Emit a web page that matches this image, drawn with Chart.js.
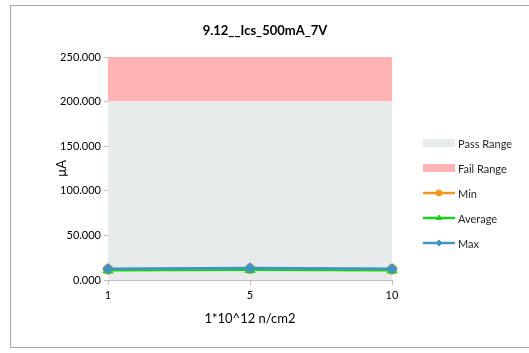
<!DOCTYPE html>
<html>
<head>
<meta charset="utf-8">
<script src="https://cdn.jsdelivr.net/npm/chart.js@4/dist/chart.umd.min.js"></script>
<style>
    html, body { margin: 0; padding: 0; background: #fff; overflow: hidden; }
    #wrap { position: relative; width: 529px; height: 353px; overflow: hidden; }
    #frame { position: absolute; left: 10px; top: 5px; width: 540px; height: 341px; border: 1px solid #a6a6a6; }
    canvas { position: absolute; left: 0; top: 0; }
</style>
</head>
<body>
<div id="wrap">
    <div id="frame"></div>
    <canvas id="chart" width="529" height="353"></canvas>
</div>
<script>
    var chartTitle = '9.12__Ics_500mA_7V';
    var fluence = ['1', '5', '10'];
    var passRange = [200, 200, 200];
    var failRange = [250, 250, 250];
    var minValues = [12.0, 12.5, 12.0];
    var avgValues = [11.0, 11.5, 11.0];
    var maxValues = [12.5, 13.5, 12.5];
    var yTicks = [0, 50, 100, 150, 200, 250];

    var fontFamily = 'Lato, "Open Sans", sans-serif';

    // Title and legend drawn by hand: title centred on the whole frame,
    // legend entries get a line with a marker like the original.
    var decorPlugin = {
        id: 'decor',
        afterDraw: function (chart) {
            var ctx = chart.ctx;
            ctx.save();
            ctx.fillStyle = '#000';
            ctx.font = 'bold 13px ' + fontFamily;
            ctx.textAlign = 'center';
            ctx.textBaseline = 'middle';
            ctx.fillText(chartTitle, 265, 31);

            var x = 423, y = 143, step = 25;
            ctx.font = '11px ' + fontFamily;
            ctx.textAlign = 'left';
            chart.data.datasets.forEach(function (ds, i) {
                var cy = y + i * step;
                if (ds.isRange) {
                    ctx.fillStyle = ds.backgroundColor;
                    ctx.fillRect(x, cy - 4, 32, 8);
                } else {
                    ctx.strokeStyle = ds.borderColor;
                    ctx.fillStyle = ds.borderColor;
                    ctx.lineWidth = 2.5;
                    ctx.beginPath();
                    ctx.moveTo(x, cy);
                    ctx.lineTo(x + 32, cy);
                    ctx.stroke();
                    ctx.lineWidth = 1;
                    Chart.helpers.drawPoint(ctx, {
                        pointStyle: ds.pointStyle,
                        radius: 3,
                        borderWidth: 1
                    }, x + 16, cy);
                }
                ctx.fillStyle = '#262626';
                ctx.fillText(ds.label, x + 35, cy + 1);
            });
            ctx.restore();
        }
    };

    function lineSeries(label, data, color, style, order) {
        return {
            label: label,
            data: data,
            borderColor: color,
            backgroundColor: color,
            pointBackgroundColor: color,
            pointBorderColor: color,
            pointStyle: style,
            pointRadius: 4,
            borderWidth: 2.5,
            fill: false,
            tension: 0,
            order: order
        };
    }

    new Chart(document.getElementById('chart'), {
        type: 'line',
        data: {
            labels: fluence,
            datasets: [
                {
                    label: 'Pass Range',
                    isRange: true,
                    data: passRange,
                    backgroundColor: '#e7ebeb',
                    borderWidth: 0,
                    pointRadius: 0,
                    fill: 'origin',
                    order: 10
                },
                {
                    label: 'Fail Range',
                    isRange: true,
                    data: failRange,
                    backgroundColor: '#ffb3b3',
                    borderWidth: 0,
                    pointRadius: 0,
                    fill: '-1',
                    order: 11
                },
                lineSeries('Min', minValues, '#f7941d', 'circle', 2),
                lineSeries('Average', avgValues, '#1ed01e', 'triangle', 1),
                lineSeries('Max', maxValues, '#3d95c6', 'rectRot', 0)
            ]
        },
        options: {
            responsive: false,
            animation: false,
            layout: { padding: { left: 50, right: 137, top: 57, bottom: 22 } },
            plugins: {
                legend: { display: false },
                tooltip: { enabled: false },
                title: { display: false }
            },
            scales: {
                x: {
                    offset: false,
                    afterFit: function (scale) { scale.height = 51; },
                    grid: { drawOnChartArea: false, drawTicks: true, tickLength: 5, color: '#bfbfbf' },
                    border: { color: '#bfbfbf' },
                    ticks: { color: '#000', font: { family: fontFamily, size: 11 }, padding: 4 },
                    title: {
                        display: true,
                        text: '1*10^12 n/cm2',
                        color: '#000',
                        font: { family: fontFamily, size: 13 },
                        padding: { top: 6 }
                    }
                },
                y: {
                    min: 0,
                    max: 250,
                    afterFit: function (scale) { scale.width = 58; },
                    afterBuildTicks: function (scale) {
                        scale.ticks = yTicks.map(function (v) { return { value: v }; });
                    },
                    grid: { drawOnChartArea: false, drawTicks: true, tickLength: 4, color: '#bfbfbf' },
                    border: { color: '#bfbfbf' },
                    ticks: {
                        color: '#000',
                        font: { family: fontFamily, size: 11 },
                        padding: 3,
                        callback: function (v) { return v.toFixed(3); }
                    },
                    title: {
                        display: true,
                        text: 'µA',
                        color: '#000',
                        font: { family: fontFamily, size: 13 },
                        padding: { bottom: 0 }
                    }
                }
            }
        },
        plugins: [decorPlugin]
    });
</script>
</body>
</html>
